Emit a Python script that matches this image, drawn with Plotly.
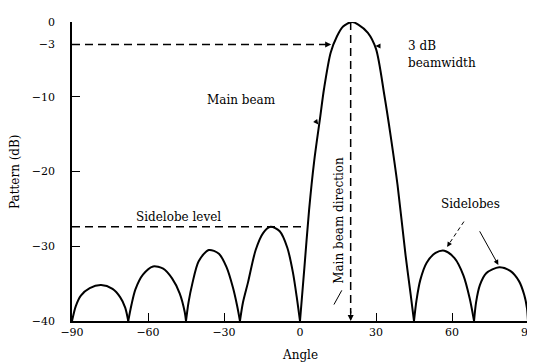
import plotly.graph_objects as go

# ---- data ----
lobe1_x = [-90, -88.5, -86.5, -83, -78.5, -74, -71, -69, -67.8]
lobe1_y = [-40, -38, -36.6, -35.6, -35.2, -35.7, -36.8, -38.2, -40]
lobe2_x = [-67.8, -66.5, -65, -62, -58, -54, -50.5, -47.5, -45.5, -45]
lobe2_y = [-40, -37.8, -35.8, -33.8, -32.7, -33.0, -34.3, -36.3, -38.8, -40]
lobe3_x = [-45, -44, -42.5, -40, -36, -32, -29, -26.5, -24.8, -23.7]
lobe3_y = [-40, -37.5, -35.0, -32.0, -30.5, -31.0, -32.8, -35.5, -38, -40]
lobe4_x = [-23.7, -22.5, -20.5, -17.5, -14.5, -11.6, -8, -5, -2.8, -1.2, 0]
lobe4_y = [-40, -37.5, -34.8, -30.5, -28.2, -27.4, -28, -30.2, -33.5, -37, -40]
main_x = [0, 1.7, 3.6, 5.6, 7.9, 9.5, 12.1, 14.6, 17, 20.5, 23, 26.8, 30, 33.3, 35.9, 38.5, 41.7, 43.7, 45]
main_y = [-40, -33, -25.1, -18.6, -12.9, -8.9, -4.1, -1.9, -0.6, 0, -0.35, -1.45, -3.6, -9.8, -15.5, -21.8, -31.3, -36.5, -40]
lobe5_x = [45, 46, 47.5, 50, 53.5, 57, 61, 64.5, 67, 68.7]
lobe5_y = [-40, -37.2, -34.5, -32.2, -30.9, -30.6, -31.6, -33.9, -37, -40]
lobe6_x = [68.7, 69.5, 71, 73.5, 78.6, 83, 86.5, 88.5, 89.6, 90]
lobe6_y = [-40, -37.5, -35.2, -33.6, -32.8, -33.3, -34.7, -36.5, -38.3, -40]

x_ticks = [-90, -60, -30, 0, 30, 60, 90]
x_ticktext = ["\u221290", "\u221260", "\u221230", "0", "30", "60", "90"]
y_ticks = [0, -3, -10, -20, -30, -40]
y_ticktext = ["0", "\u22123", "\u221210", "\u221220", "\u221230", "\u221240"]

half_power_level = -3
half_power_left = 12.3
sidelobe_level = -27.4
sidelobe_line_end = 1.8
beam_direction = 20

FONT = "DejaVu Serif"
fig = go.Figure()

for lx, ly in [(lobe1_x, lobe1_y), (lobe2_x, lobe2_y), (lobe3_x, lobe3_y), (lobe4_x, lobe4_y),
               (main_x, main_y), (lobe5_x, lobe5_y), (lobe6_x, lobe6_y)]:
    fig.add_trace(go.Scatter(x=lx, y=ly, mode="lines", line=dict(color="black", width=2, shape="spline", smoothing=0.8),
                             hoverinfo="skip", showlegend=False))

dash = "8px,5px"
# -3 dB dashed line
fig.add_trace(go.Scatter(x=[-90, half_power_left - 0.8], y=[half_power_level, half_power_level], mode="lines",
                         line=dict(color="black", width=1.5, dash=dash), showlegend=False, hoverinfo="skip"))
# sidelobe level dashed line
fig.add_trace(go.Scatter(x=[-90, sidelobe_line_end], y=[sidelobe_level, sidelobe_level], mode="lines",
                         line=dict(color="black", width=1.5, dash=dash), showlegend=False, hoverinfo="skip"))
# main beam direction
fig.add_trace(go.Scatter(x=[beam_direction, beam_direction], y=[0, -39], mode="lines",
                         line=dict(color="black", width=1.5, dash=dash), showlegend=False, hoverinfo="skip"))

def arrow(x, y, ax, ay, w=1.2, head=2):
    fig.add_annotation(x=x, y=y, ax=ax, ay=ay, xref="x", yref="y", axref="x", ayref="y",
                       text="", showarrow=True, arrowhead=head, arrowsize=1, arrowwidth=w, arrowcolor="black")

arrow(half_power_left, half_power_level, half_power_left - 1.5, half_power_level)
arrow(beam_direction, -40, beam_direction, -38.5)
arrow(29.8, -3.2, 32.0, -3.2, w=1)
arrow(7.2, -13.7, 5.6, -13.0, w=1)
# dashed leader for first "Sidelobes" arrow
fig.add_shape(type="line", x0=64.7, y0=-26.7, x1=59.0, y1=-29.6, xref="x", yref="y",
              line=dict(color="black", width=1, dash="4px,3px"))
arrow(58.1, -30.1, 59.2, -29.5, w=1)
arrow(78.3, -32.5, 70.6, -27.8, w=1)

fig.add_shape(type="line", x0=13.4, y0=-37.8, x1=16.5, y1=-35.9, xref="x", yref="y", line=dict(color="black", width=1))

def text(x, y, s, anchor="center", angle=0, size=12):
    fig.add_annotation(x=x, y=y, xref="x", yref="y", text=s, showarrow=False, xanchor=anchor, yanchor="middle",
                       textangle=angle, font=dict(family=FONT, size=size, color="black"))

text(41.8, -3.2, "3 dB", anchor="left")
text(41.8, -5.5, "beamwidth", anchor="left")
text(-23.1, -10.5, "Main beam")
text(-65.5, -26.1, "Sidelobe level", anchor="left")
text(67.3, -24.3, "Sidelobes")
text(15.4, -26.6, "Main beam direction", angle=-90)

fig.add_annotation(x=0.5, y=-0.115, xref="paper", yref="paper", text="Angle", showarrow=False,
                   xanchor="center", yanchor="middle", font=dict(family=FONT, size=12, color="black"))
fig.add_annotation(x=-0.126, y=0.5, xref="paper", yref="paper", text="Pattern (dB)", showarrow=False,
                   textangle=-90, xanchor="center", yanchor="middle", font=dict(family=FONT, size=12, color="black"))

fig.update_xaxes(range=[-90, 90], tickvals=x_ticks, ticktext=x_ticktext, ticks="inside", ticklen=8,
                 tickcolor="black", showline=True, linecolor="black", linewidth=1.5, mirror=False,
                 showgrid=False, zeroline=False, tickfont=dict(family=FONT, size=11, color="black"),
                 ticklabelstandoff=0)
fig.update_yaxes(range=[-40, 0], tickvals=y_ticks, ticktext=y_ticktext, ticks="inside", ticklen=8,
                 tickcolor="black", showline=True, linecolor="black", linewidth=1.5, mirror=True,
                 showgrid=False, zeroline=False, tickfont=dict(family=FONT, size=11, color="black"),
                 ticklabelstandoff=13)
fig.update_layout(width=535, height=364, margin=dict(l=64, r=8, t=9, b=51),
                  plot_bgcolor="white", paper_bgcolor="white", showlegend=False)

fig.write_html("out.html")
